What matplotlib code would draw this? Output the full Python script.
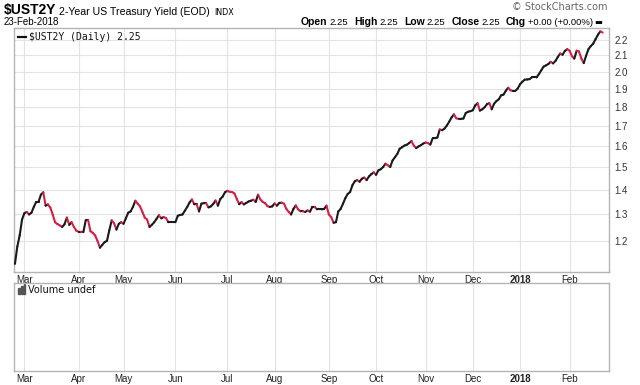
import matplotlib
matplotlib.use("Agg")
import matplotlib.pyplot as plt
import numpy as np
import pandas as pd
from matplotlib.collections import LineCollection
from matplotlib.patches import Rectangle
from matplotlib.ticker import FixedLocator, NullLocator

# bond market holidays inside the window
holidays = ["2017-04-14", "2017-05-29", "2017-07-04", "2017-09-04", "2017-10-09",
            "2017-11-10", "2017-11-23", "2017-12-25", "2018-01-01", "2018-01-15",
            "2018-02-19"]

# daily close of $UST2Y (one per trading day)
yields = [
    1.12, 1.18, 1.22, 1.28, 1.305, 1.31, 1.30, 1.307, 1.33, 1.35,
    1.35, 1.38, 1.39, 1.335, 1.34, 1.327, 1.30, 1.27, 1.263, 1.258,
    1.252, 1.262, 1.288, 1.26, 1.27, 1.252, 1.238, 1.234, 1.234, 1.233,
    1.278, 1.278, 1.236, 1.23, 1.22, 1.20, 1.176, 1.186, 1.196, 1.201,
    1.24, 1.277, 1.266, 1.242, 1.264, 1.27, 1.264, 1.285, 1.307, 1.312,
    1.33, 1.355, 1.343, 1.332, 1.31, 1.288, 1.28, 1.252, 1.26, 1.27,
    1.283, 1.297, 1.285, 1.29, 1.286, 1.27, 1.27, 1.27, 1.27, 1.295,
    1.298, 1.30, 1.315, 1.33, 1.348, 1.36, 1.34, 1.34, 1.312, 1.343,
    1.345, 1.345, 1.328, 1.332, 1.342, 1.356, 1.335, 1.362, 1.372, 1.39,
    1.396, 1.392, 1.391, 1.385, 1.362, 1.341, 1.349, 1.340, 1.346, 1.352,
    1.355, 1.359, 1.35, 1.38, 1.36, 1.35, 1.345, 1.333, 1.33, 1.332,
    1.344, 1.335, 1.346, 1.347, 1.343, 1.322, 1.31, 1.30, 1.322, 1.336,
    1.32, 1.312, 1.312, 1.31, 1.316, 1.311, 1.33, 1.33, 1.32, 1.32,
    1.32, 1.322, 1.335, 1.30, 1.29, 1.268, 1.27, 1.312, 1.322, 1.343,
    1.366, 1.383, 1.391, 1.42, 1.437, 1.442, 1.435, 1.448, 1.453, 1.442,
    1.458, 1.468, 1.476, 1.465, 1.485, 1.49, 1.50, 1.515, 1.508, 1.50,
    1.53, 1.545, 1.56, 1.585, 1.592, 1.60, 1.604, 1.612, 1.622, 1.60,
    1.588, 1.596, 1.602, 1.61, 1.615, 1.612, 1.605, 1.636, 1.636, 1.64,
    1.68, 1.676, 1.684, 1.70, 1.72, 1.742, 1.758, 1.737, 1.735, 1.735,
    1.736, 1.765, 1.772, 1.775, 1.78, 1.806, 1.818, 1.778, 1.785, 1.796,
    1.813, 1.819, 1.785, 1.815, 1.83, 1.84, 1.862, 1.866, 1.888, 1.905,
    1.89, 1.887, 1.887, 1.90, 1.925, 1.94, 1.952, 1.953, 1.955, 1.965,
    1.965, 1.965, 1.985, 2.008, 2.03, 2.038, 2.046, 2.06, 2.05, 2.065,
    2.09, 2.112, 2.104, 2.128, 2.14, 2.13, 2.095, 2.08, 2.13, 2.125,
    2.08, 2.052, 2.098, 2.14, 2.16, 2.176, 2.205, 2.235, 2.258, 2.25,
]

y_ticks = [1.2, 1.3, 1.4, 1.5, 1.6, 1.7, 1.8, 1.9, 2.0, 2.1, 2.2]

dates = pd.bdate_range("2017-02-23", "2018-02-23")
dates = dates[~dates.isin(pd.to_datetime(holidays))]
n = min(len(dates), len(yields))
dates = dates[:n]
vals = np.array(yields[:n])
x = np.arange(n)

# first trading day of each month
month_pos = []
month_labels = []
for i in range(1, n):
    if dates[i].month != dates[i - 1].month:
        month_pos.append(i)
        month_labels.append("2018" if dates[i].month == 1 else dates[i].strftime("%b"))

UP = "#1a1a1a"
DOWN = "#d81e45"
GRID = "#e3e3e3"
FRAME = "#b4b4b4"
FONT = "Liberation Sans"

fig = plt.figure(figsize=(6.4, 3.85), dpi=100)
W, H = 640, 385


def px_axes(left, top, right, bottom):
    return fig.add_axes([left / W, 1 - bottom / H, (right - left) / W, (bottom - top) / H])


def chain(prev, txt, gap, **kw):
    """Place a text right after the previous one."""
    return fig.add_artist(plt.Annotation(txt, xy=(1, 0), xycoords=prev, xytext=(gap, 0),
                                         textcoords="offset points", va="bottom",
                                         ha="left", **kw))


ax = px_axes(14, 28, 609, 272)
vax = px_axes(14, 283, 609, 371)

# price line, black on up days and red on down days
pts = np.column_stack([x, vals])
segs = np.stack([pts[:-1], pts[1:]], axis=1)
cols = np.where(np.diff(vals) >= 0, UP, DOWN)
ax.set_yscale("log")
ax.add_collection(LineCollection(segs, colors=cols, linewidths=1.5, capstyle="round",
                                 joinstyle="round", zorder=3))
ax.set_xlim(-0.4, 251.7)
ax.set_ylim(1.093, 2.281)

ax.yaxis.set_major_locator(FixedLocator(y_ticks))
ax.yaxis.set_minor_locator(NullLocator())
ax.set_yticklabels([f"{t:.1f}" for t in y_ticks])
ax.yaxis.tick_right()
ax.tick_params(axis="y", length=0, pad=4, labelsize=7, labelcolor="#333333")

for a in (ax, vax):
    a.set_xticks(month_pos)
    a.set_xticklabels(month_labels)
    a.tick_params(axis="x", length=0, pad=2, labelsize=7, labelcolor="#222222")
    for lbl in a.get_xticklabels():
        lbl.set_fontfamily(FONT)
        if lbl.get_text() == "2018":
            lbl.set_fontweight("bold")
    a.grid(True, axis="x", color=GRID, lw=0.8)
    for s in a.spines.values():
        s.set_color(FRAME)
        s.set_linewidth(1.0)
    a.set_axisbelow(True)

ax.grid(True, axis="y", color=GRID, lw=0.8)
for lbl in ax.get_yticklabels():
    lbl.set_fontfamily(FONT)

vax.set_xlim(-0.4, 251.7)
vax.set_ylim(0, 1)
vax.set_yticks([])

# legends inside the panels
ax.plot([0.006, 0.02], [0.965, 0.965], transform=ax.transAxes, color="#111111", lw=1.6)
ax.text(0.025, 0.965, "$UST2Y (Daily) 2.25", transform=ax.transAxes, va="center",
        ha="left", fontsize=7, family="DejaVu Sans Mono", color="#111111")
for k, hgt in enumerate([0.07, 0.10, 0.12]):
    vax.add_patch(Rectangle((0.007 + k * 0.0045, 0.87), 0.0032, hgt,
                            transform=vax.transAxes, color="#555555"))
vax.text(0.024, 0.925, "Volume undef", transform=vax.transAxes, va="center", ha="left",
         fontsize=7, family="DejaVu Sans", color="#111111")

# header
t = fig.text(4 / W, 1 - 17 / H, "$UST2Y", fontsize=10, fontweight="bold", family=FONT,
             va="bottom")
t = chain(t, "2-Year US Treasury Yield (EOD)", 2, fontsize=7.6, family=FONT)
chain(t, "INDX", 3, fontsize=5.8, family="DejaVu Sans")
fig.text(4 / W, 1 - 27 / H, "23-Feb-2018", fontsize=7, family=FONT, va="bottom")
fig.text(608 / W, 1 - 12 / H, "\u00a9 StockCharts.com", fontsize=7, family="DejaVu Sans",
         color="#666666", ha="right", va="bottom")

parts = [("Open", True), ("2.25", False), ("High", True), ("2.25", False),
         ("Low", True), ("2.25", False), ("Close", True), ("2.25", False),
         ("Chg", True), ("+0.00 (+0.00%)", False)]
prev = None
for txt, bold in parts:
    kw = dict(fontsize=7.5 if bold else 6.8, family=FONT,
              fontweight="bold" if bold else "normal")
    if prev is None:
        prev = fig.text(301 / W, 1 - 27 / H, txt, va="bottom", ha="left", **kw)
    else:
        prev = chain(prev, txt, 4.2 if bold else 1.5, **kw)
chain(prev, "\u25ac", 0.5, fontsize=6, family="DejaVu Sans")

fig.savefig("out.png", dpi=100)
